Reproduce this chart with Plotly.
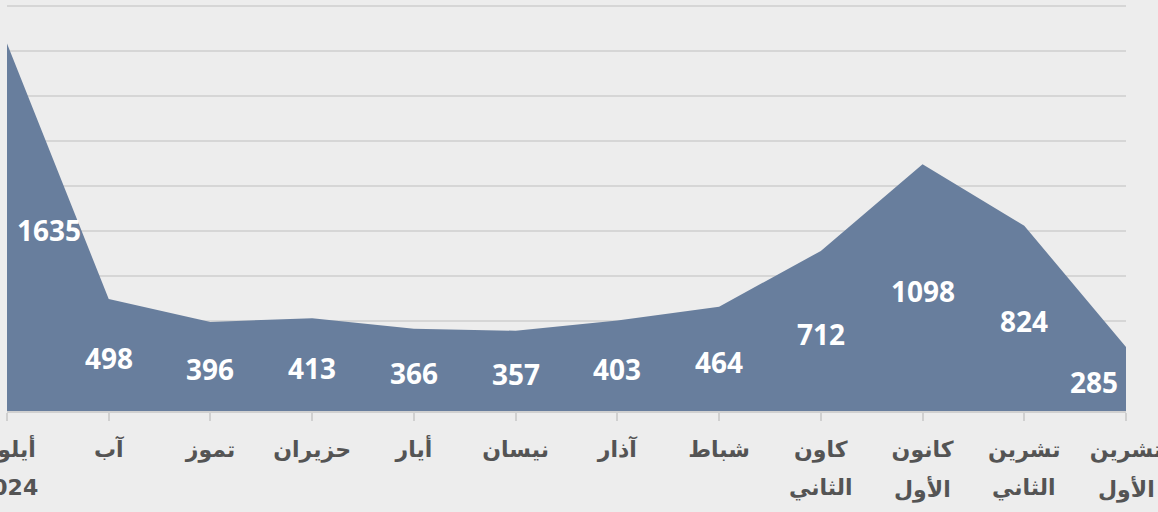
import plotly.graph_objects as go

# Chronological order (x-axis reversed, as in the reference)
month_line1 = ["تشرين", "تشرين", "كانون", "كاون", "شباط", "آذار", "نيسان", "أيار",
               "حزيران", "تموز", "آب", "أيلول"]
month_line2 = ["الأول", "الثاني", "الأول", "الثاني", "", "", "", "", "", "", "", "2024"]
values = [285, 824, 1098, 712, 464, 403, 357, 366, 413, 396, 498, 1635]
y_ticks = [0, 200, 400, 600, 800, 1000, 1200, 1400, 1600, 1800]

x = list(range(len(values)))
n = len(values)
fill_color = "#687e9d"
label_color = "#545454"
label_font = dict(family="DejaVu Sans", size=22, color=label_color, weight="bold")

fig = go.Figure()
fig.add_trace(go.Scatter(
    x=x, y=values, mode="lines", fill="tozeroy",
    line=dict(color=fill_color, width=0), fillcolor=fill_color,
    hoverinfo="skip", showlegend=False,
))

# data labels, centred in the area height
for i, v in enumerate(values):
    if i == n - 1:
        anchor, shift = "left", 8
    elif i == 0:
        anchor, shift = "right", -6
    else:
        anchor, shift = "center", 0
    fig.add_annotation(
        x=i, y=v / 2, xref="x", yref="y", text=str(v), showarrow=False,
        xanchor=anchor, xshift=shift, yshift=-3,
        font=dict(family="Open Sans", size=28, color="white", weight="bold"),
    )

# second line of the category labels
for i, t in enumerate(month_line2):
    if t:
        fig.add_annotation(
            x=i, y=0, xref="x", yref="paper", text=t, showarrow=False,
            xanchor="center", yanchor="top", yshift=-62, font=label_font,
        )

fig.update_layout(
    width=1158, height=512,
    margin=dict(l=7, r=32, t=3, b=101),
    paper_bgcolor="#ededed", plot_bgcolor="rgba(0,0,0,0)",
    xaxis=dict(
        range=[n - 1, 0], tickmode="array", tickvals=x, ticktext=month_line1,
        showgrid=False, zeroline=False, showline=True, linecolor="#d0d0d0", linewidth=1.5,
        ticks="outside", ticklen=8, tickcolor="#d0d0d0", tickwidth=1.5,
        ticklabeloverflow="allow", automargin=False, ticklabelstandoff=10,
        tickfont=label_font,
    ),
    yaxis=dict(
        range=[0, 1815], tickvals=y_ticks, showticklabels=False,
        showgrid=True, gridcolor="#d6d6d6", gridwidth=1.5, zeroline=False,
    ),
)

fig.write_html("out.html", config={"displayModeBar": False},
               post_script="document.body.style.margin='0';document.body.style.overflow='hidden';")
